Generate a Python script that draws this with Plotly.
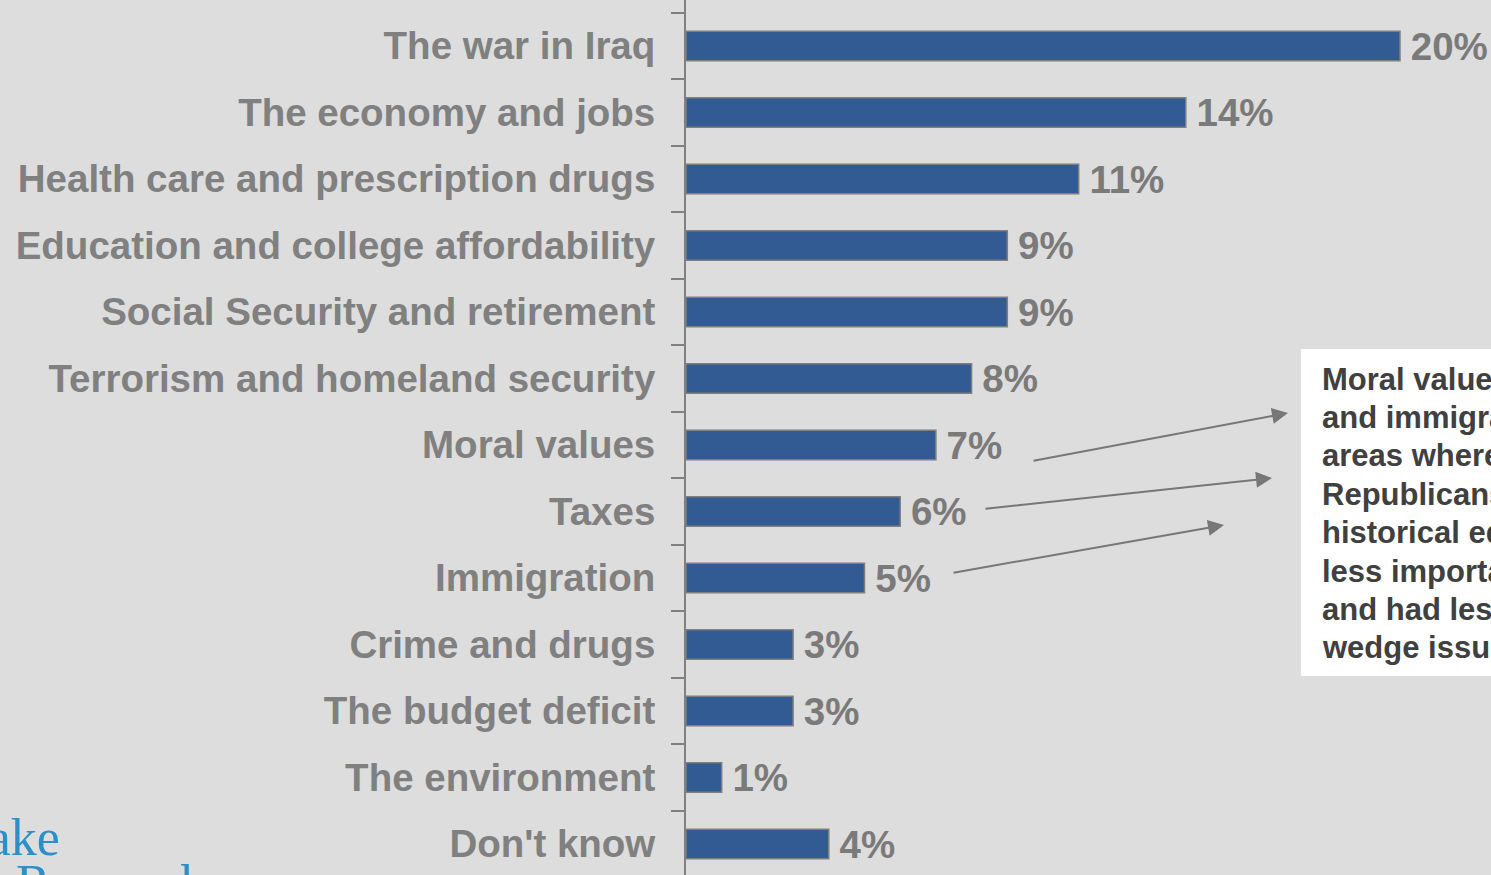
import plotly.graph_objects as go

categories = [
    "The war in Iraq",
    "The economy and jobs",
    "Health care and prescription drugs",
    "Education and college affordability",
    "Social Security and retirement",
    "Terrorism and homeland security",
    "Moral values",
    "Taxes",
    "Immigration",
    "Crime and drugs",
    "The budget deficit",
    "The environment",
    "Don't know",
]
values = [20, 14, 11, 9, 9, 8, 7, 6, 5, 3, 3, 1, 4]
value_labels = [f"{v}%" for v in values]

note_lines = [
    "Moral values, taxes",
    "and immigration –",
    "areas where",
    "Republicans have",
    "historical edge – were",
    "less important",
    "and had less impact as",
    "wedge issues",
]

W, H = 1491, 875
L = 686
PW = W - L
PH = H
XMAX = 805 / 35.7
CAT_PX = 66.5
Y_TOP = -0.5 - 12.75 / CAT_PX
Y_BOT = Y_TOP + PH / CAT_PX

BG = "#dddddd"
GRAY = "#808080"

fig = go.Figure()
fig.add_trace(go.Bar(
    y=categories, x=values, orientation="h",
    text=value_labels, textposition="outside",
    textfont=dict(family="Liberation Sans", size=38.5, color="#7a7a7a"),
    constraintext="none", cliponaxis=False,
    marker=dict(color="#335b93", line=dict(color="#7f7f7f", width=1.5)),
    hoverinfo="skip",
))

def px_x(p):
    return (p - L) / PW

def px_y(p):
    return 1 - p / PH

annotations = []
# arrows: (tail_x, tail_y, head_x, head_y) in pixels
arrows = [(1032, 461, 1288, 413), (984, 509, 1272, 478), (952, 573, 1224, 525)]
for tx, ty, hx, hy in arrows:
    annotations.append(dict(
        x=px_x(hx), y=px_y(hy), xref="paper", yref="paper",
        ax=tx - hx, ay=ty - hy, axref="pixel", ayref="pixel",
        text="", showarrow=True, arrowhead=2, arrowsize=1.6, arrowwidth=2,
        arrowcolor="#777777", standoff=0, startstandoff=0,
    ))

for i, line in enumerate(note_lines):
    annotations.append(dict(
        x=px_x(1320), y=px_y(379 + i * 38.4), xref="paper", yref="paper",
        xanchor="left", yanchor="middle", text=f"<b>{line}</b>", showarrow=False,
        font=dict(family="Liberation Sans", size=31, color="#404040"),
    ))

# logo fragments
annotations.append(dict(
    x=px_x(62), y=px_y(856), xref="paper", yref="paper", xanchor="right", yanchor="bottom",
    text="Lake", showarrow=False, yshift=-12,
    font=dict(family="Liberation Serif", size=52, color="#2b8fc8"),
))
annotations.append(dict(
    x=px_x(14), y=px_y(862), xref="paper", yref="paper", xanchor="left", yanchor="top",
    text="Research", showarrow=False, yshift=9,
    font=dict(family="Liberation Serif", size=52, color="#2b8fc8"),
))

shapes = [dict(
    type="rect", xref="paper", yref="paper",
    x0=px_x(1301), x1=px_x(1520), y0=px_y(676), y1=px_y(349),
    fillcolor="white", line=dict(width=0), layer="below",
)]

fig.update_layout(
    width=W, height=H,
    margin=dict(l=L, r=0, t=0, b=0),
    paper_bgcolor=BG, plot_bgcolor=BG,
    bargap=0.56, showlegend=False,
    annotations=annotations, shapes=shapes,
    xaxis=dict(range=[0, XMAX], visible=False, fixedrange=True),
    yaxis=dict(
        type="category", categoryorder="array", categoryarray=categories,
        range=[Y_BOT, Y_TOP],
        showline=True, linecolor=GRAY, linewidth=2,
        ticks="outside", ticklen=13, tickwidth=2, tickcolor=GRAY,
        tickson="boundaries", ticklabelstandoff=21,
        tickfont=dict(family="Liberation Sans", size=38.5, color=GRAY),
        showgrid=False, zeroline=False, fixedrange=True,
    ),
    font=dict(family="Liberation Sans"),
)
fig.update_traces(texttemplate="<b>\u2009%{text}</b>")
fig.update_yaxes(tickprefix="<b>", ticksuffix="</b>")

fig.write_html(
    "out.html",
    config={"displayModeBar": False},
    post_script="document.body.style.margin='0';document.body.style.background='#dddddd';",
)
